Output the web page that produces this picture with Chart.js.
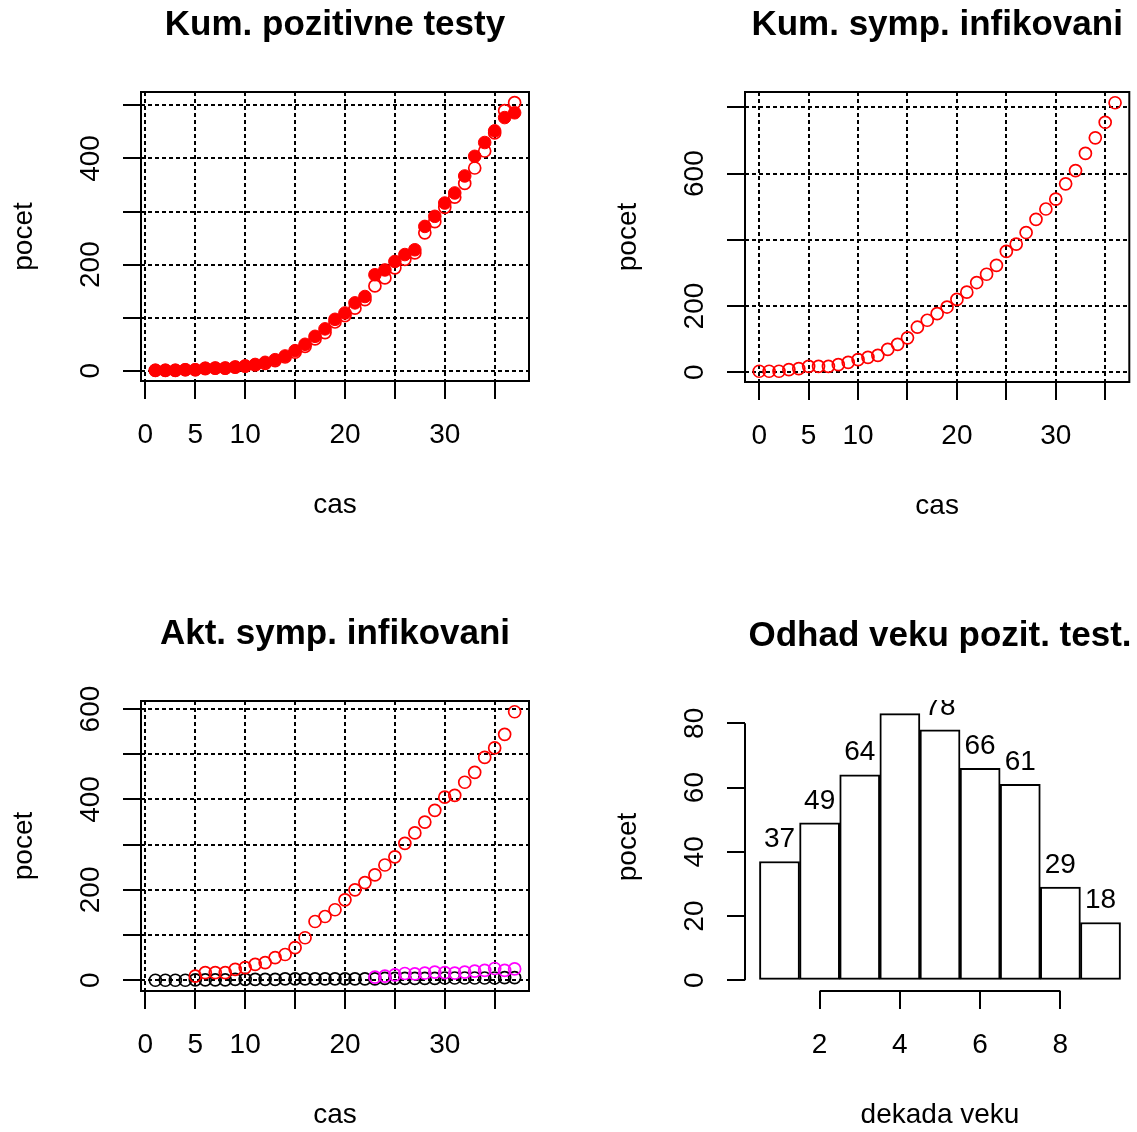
<!DOCTYPE html>
<html>
<head>
<meta charset="utf-8">
<script src="https://cdn.jsdelivr.net/npm/chart.js@4.4.1/dist/chart.umd.min.js"></script>
<style>
  body { margin: 0; background: #fff; width: 1137px; height: 1132px; position: relative; overflow: hidden; }
  canvas { position: absolute; }
</style>
</head>
<body>
<canvas id="c1" width="568" height="566" style="left:0;top:0"></canvas>
<canvas id="c2" width="569" height="566" style="left:568px;top:0"></canvas>
<canvas id="c3" width="568" height="566" style="left:0;top:566px"></canvas>
<canvas id="c4" width="569" height="566" style="left:568px;top:566px"></canvas>
<script>
// --- values ---
const days = [1, 2, 3, 4, 5, 6, 7, 8, 9, 10, 11, 12, 13, 14, 15, 16, 17, 18, 19, 20,
  21, 22, 23, 24, 25, 26, 27, 28, 29, 30, 31, 32, 33, 34, 35, 36, 37];
const posFilled = [1, 1, 1, 2, 2, 5, 5, 5, 7, 9, 12, 16, 21, 28, 38, 50, 65, 79, 97, 109,
  128, 140, 181, 190, 206, 219, 228, 272, 291, 316, 335, 367, 404, 430, 452, 477, 486];
const posOpen = [1, 1, 1, 2, 2, 4, 5, 5, 7, 9, 11, 14, 19, 26, 35, 46, 60, 72, 92, 104,
  118, 134, 160, 175, 194, 210, 222, 260, 281, 308, 327, 353, 382, 414, 448, 490, 505];

const days0 = [0, 1, 2, 3, 4, 5, 6, 7, 8, 9, 10, 11, 12, 13, 14, 15, 16, 17, 18, 19,
  20, 21, 22, 23, 24, 25, 26, 27, 28, 29, 30, 31, 32, 33, 34, 35, 36];
const sympCum = [3, 3, 3, 8, 11, 18, 18, 18, 23, 30, 38, 45, 51, 69, 84, 104, 136, 157, 177, 197,
  220, 242, 271, 296, 323, 365, 387, 422, 462, 493, 523, 569, 609, 661, 708, 755, 814];

const aktBlack = [0, 0, 0, 0, 1, 1, 1, 1, 2, 2, 2, 2, 2, 3, 3, 3, 3, 3, 3, 3,
  3, 3, 3, 4, 4, 4, 4, 4, 4, 5, 5, 5, 5, 5, 5, 6, 6];
const daysRed = [5, 6, 7, 8, 9, 10, 11, 12, 13, 14, 15, 16, 17, 18, 19, 20, 21,
  22, 23, 24, 25, 26, 27, 28, 29, 30, 31, 32, 33, 34, 35, 36, 37];
const aktRed = [9, 17, 17, 17, 24, 28, 35, 39, 50, 57, 72, 94, 130, 141, 156, 178, 200,
  216, 233, 255, 273, 303, 326, 350, 376, 405, 409, 438, 460, 493, 514, 544, 594];
const daysMag = [23, 24, 25, 26, 27, 28, 29, 30, 31, 32, 33, 34, 35, 36, 37];
const aktMag = [7, 9, 12, 15, 14, 16, 18, 17, 16, 18, 20, 22, 26, 22, 25];

const decades = [1, 2, 3, 4, 5, 6, 7, 8, 9];
const decadeCounts = [37, 49, 64, 83, 78, 66, 61, 29, 18];

// tick positions, and which of them carry a printed label
const ticksDays = [0, 5, 10, 15, 20, 25, 30, 35];
const labelsDays = [0, 5, 10, 20, 30];
const ticksPos = [0, 100, 200, 300, 400, 500];
const labelsPos = [0, 200, 400];
const ticksSymp = [0, 200, 400, 600, 800];
const labelsSymp = [0, 200, 600];
const ticksAkt = [0, 100, 200, 300, 400, 500, 600];
const labelsAkt = [0, 200, 400, 600];
const ticksDecade = [2, 4, 6, 8];
const ticksCount = [0, 20, 40, 60, 80];
const breaks = [0.5, 9.5];

// R style axis range: data range stretched by 4% on each side
function rRange(...arrs) {
  const all = [].concat(...arrs);
  const lo = Math.min(...all), hi = Math.max(...all), d = (hi - lo) * 0.04;
  return [lo - d, hi + d];
}
const pts = (xs, ys) => xs.map((x, i) => ({ x: x, y: ys[i] }));

const FONT = '"Liberation Sans", Arial, sans-serif';

// draws the box, axis texts and titles the way base R does
const rLook = {
  id: 'rLook',
  afterDatasetsDraw(chart, args, o) {
    if (!o.barLabels) return;
    const { ctx, chartArea: a } = chart;
    ctx.save();
    ctx.beginPath();
    ctx.rect(a.left, a.top - 3, a.right - a.left, a.bottom - a.top);
    ctx.clip();
    ctx.font = '28px ' + FONT;
    ctx.fillStyle = '#000';
    ctx.textAlign = 'center';
    ctx.textBaseline = 'middle';
    chart.getDatasetMeta(0).data.forEach((bar, i) => {
      ctx.fillText(String(o.barLabels[i]), bar.x, bar.y - 22);
    });
    ctx.restore();
  },
  afterDraw(chart, args, o) {
    const { ctx, chartArea: a } = chart;
    const x = chart.scales.x, y = chart.scales.y;
    ctx.save();
    ctx.strokeStyle = '#000';
    ctx.fillStyle = '#000';
    ctx.lineWidth = 2;
    if (o.box) {
      ctx.strokeRect(a.left, a.top, a.right - a.left, a.bottom - a.top);
    } else {
      ctx.beginPath();
      ctx.moveTo(x.getPixelForValue(o.xTicks[0]), a.bottom);
      ctx.lineTo(x.getPixelForValue(o.xTicks[o.xTicks.length - 1]), a.bottom);
      ctx.moveTo(a.left, y.getPixelForValue(o.yTicks[0]));
      ctx.lineTo(a.left, y.getPixelForValue(o.yTicks[o.yTicks.length - 1]));
      ctx.stroke();
    }
    ctx.font = '28px ' + FONT;
    ctx.textAlign = 'center';
    ctx.textBaseline = 'middle';
    o.xLabels.forEach(v => ctx.fillText(String(v), x.getPixelForValue(v), a.bottom + 54));
    ctx.fillText(o.xTitle, (a.left + a.right) / 2, a.bottom + 124);
    o.yLabels.forEach(v => {
      ctx.save();
      ctx.translate(a.left - 50, y.getPixelForValue(v));
      ctx.rotate(-Math.PI / 2);
      ctx.fillText(String(v), 0, 0);
      ctx.restore();
    });
    ctx.save();
    ctx.translate(a.left - 117, (a.top + a.bottom) / 2);
    ctx.rotate(-Math.PI / 2);
    ctx.fillText(o.yTitle, 0, 0);
    ctx.restore();
    ctx.font = 'bold 35px ' + FONT;
    ctx.fillText(o.title, (a.left + a.right) / 2, a.top - 67);
    ctx.restore();
  }
};

function scales(xr, yr, xt, yt, withGrid) {
  const grid = {
    color: '#000', lineWidth: 2, drawOnChartArea: withGrid,
    drawTicks: true, tickLength: 18, tickWidth: 2, tickColor: '#000'
  };
  return {
    x: {
      type: 'linear', min: xr[0], max: xr[1], offset: false,
      afterBuildTicks: s => { s.ticks = xt.map(v => ({ value: v })); },
      afterFit: s => { s.height = 18; },
      ticks: { display: false },
      grid: Object.assign({ offset: false }, grid),
      border: { display: false, dash: [4, 3] }
    },
    y: {
      type: 'linear', min: yr[0], max: yr[1],
      afterBuildTicks: s => { s.ticks = yt.map(v => ({ value: v })); },
      afterFit: s => { s.width = 18; },
      ticks: { display: false },
      grid: grid,
      border: { display: false, dash: [4, 3] }
    }
  };
}

function openPts(data, color) {
  return { data: data, pointStyle: 'circle', pointRadius: 6, pointBorderWidth: 1.7,
    pointBorderColor: color, pointBackgroundColor: 'rgba(0,0,0,0)', showLine: false };
}

const common = {
  responsive: false, animation: false, events: [],
  plugins: { legend: { display: false }, tooltip: { enabled: false } }
};

// Kum. pozitivne testy
new Chart(document.getElementById('c1'), {
  type: 'scatter',
  data: {
    datasets: [
      { data: pts(days, posFilled), pointStyle: 'circle', pointRadius: 6.3, pointBorderWidth: 1,
        pointBorderColor: '#ff0000', pointBackgroundColor: '#ff0000' },
      openPts(pts(days, posOpen), '#ff0000')
    ]
  },
  options: Object.assign({}, common, {
    layout: { padding: { left: 123, top: 92, right: 39, bottom: 167 } },
    scales: scales(rRange(days), rRange(posFilled, posOpen), ticksDays, ticksPos, true),
    plugins: Object.assign({}, common.plugins, {
      rLook: { box: true, title: 'Kum. pozitivne testy', xTitle: 'cas', yTitle: 'pocet',
        xLabels: labelsDays, yLabels: labelsPos }
    })
  }),
  plugins: [rLook]
});

// Kum. symp. infikovani
new Chart(document.getElementById('c2'), {
  type: 'scatter',
  data: { datasets: [openPts(pts(days0, sympCum), '#ff0000')] },
  options: Object.assign({}, common, {
    layout: { padding: { left: 159, top: 92, right: 2, bottom: 166 } },
    scales: scales(rRange(days0), rRange(sympCum), ticksDays, ticksSymp, true),
    plugins: Object.assign({}, common.plugins, {
      rLook: { box: true, title: 'Kum. symp. infikovani', xTitle: 'cas', yTitle: 'pocet',
        xLabels: labelsDays, yLabels: labelsSymp }
    })
  }),
  plugins: [rLook]
});

// Akt. symp. infikovani
new Chart(document.getElementById('c3'), {
  type: 'scatter',
  data: {
    datasets: [
      Object.assign(openPts(pts(daysMag, aktMag), '#ff00ff'), { order: 1 }),
      Object.assign(openPts(pts(daysRed, aktRed), '#ff0000'), { order: 2 }),
      Object.assign(openPts(pts(days, aktBlack), '#000000'), { order: 3 })
    ]
  },
  options: Object.assign({}, common, {
    layout: { padding: { left: 123, top: 135, right: 39, bottom: 123 } },
    scales: scales(rRange(days), rRange(aktBlack, aktRed, aktMag), ticksDays, ticksAkt, true),
    plugins: Object.assign({}, common.plugins, {
      rLook: { box: true, title: 'Akt. symp. infikovani', xTitle: 'cas', yTitle: 'pocet',
        xLabels: labelsDays, yLabels: labelsAkt }
    })
  }),
  plugins: [rLook]
});

// Odhad veku pozit. test.
new Chart(document.getElementById('c4'), {
  type: 'bar',
  data: {
    datasets: [{
      data: pts(decades, decadeCounts),
      backgroundColor: '#ffffff', borderColor: '#000000', borderWidth: 2,
      borderSkipped: false, barPercentage: 1, categoryPercentage: 1
    }]
  },
  options: Object.assign({}, common, {
    layout: { padding: { left: 159, top: 137, right: 2, bottom: 123 } },
    scales: scales(rRange(breaks), rRange([0], decadeCounts), ticksDecade, ticksCount, false),
    plugins: Object.assign({}, common.plugins, {
      rLook: { box: false, title: 'Odhad veku pozit. test.', xTitle: 'dekada veku', yTitle: 'pocet',
        xLabels: ticksDecade, yLabels: ticksCount, xTicks: ticksDecade, yTicks: ticksCount,
        barLabels: decadeCounts }
    })
  }),
  plugins: [rLook]
});
</script>
</body>
</html>
